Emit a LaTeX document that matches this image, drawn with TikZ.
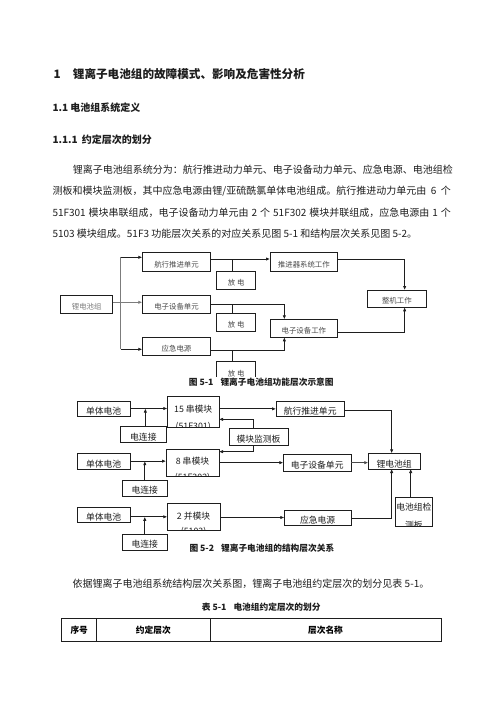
\documentclass[tikz,border=0pt]{standalone}
\usepackage{fontspec}
\setmainfont{Noto Sans CJK SC}
\usetikzlibrary{arrows.meta}
\XeTeXlinebreaklocale "zh"
\XeTeXlinebreakskip=0pt plus 1pt
\definecolor{bmsInk}{HTML}{1E1E1E}
\definecolor{bmsGrey}{HTML}{4A4A4A}
\definecolor{bmsSoft}{HTML}{7C7C7C}
\tikzset{
    bmsBoxBase/.style={
        rectangle,
        draw=bmsInk,
        anchor=north west,
        inner sep=0pt,
        outer sep=0pt,
        align=center
    },
    % Figure 5-1 (functions)
    funcBox/.style={bmsBoxBase, line width=0.75pt, text=bmsGrey,
        font=\fontsize{7.4}{9}\selectfont, text height=10.6pt, text depth=0pt},
    % Figure 5-2 (structure)
    structBox/.style={bmsBoxBase, line width=1pt, text=bmsInk,
        font=\fontsize{8.8}{10}\selectfont, text height=11.7pt, text depth=0pt},
    modText/.style={inner sep=0pt, text=bmsInk,
        font=\fontsize{8.8}{10}\selectfont, text height=6.7pt, text depth=0pt},
    % Page text
    bodyText/.style={anchor=west, inner sep=0pt, text=bmsInk,
        font=\fontsize{10}{12}\selectfont, text height=7.6pt, text depth=0pt},
    headText/.style={bodyText, font=\fontsize{10}{12}\selectfont\bfseries},
    capText/.style={anchor=west, inner sep=1pt, fill=white, text=bmsInk,
        font=\fontsize{8.7}{10}\selectfont\bfseries, text height=6.6pt, text depth=0pt},
    cellBox/.style={bmsBoxBase, line width=0.9pt, minimum height=22.7pt,
        font=\fontsize{8.7}{10}\selectfont\bfseries, text height=8pt, text depth=0pt},
    % Arrows
    bmsArrowBase/.style={-{Latex[length=4pt,width=3.4pt]}, line width=0.75pt, draw=bmsInk},
    bmsLine/.style={line width=0.75pt, draw=bmsInk},
    bmsFeed/.style={bmsArrowBase, line width=1.5pt, draw=bmsSoft}
}

\begin{document}
\begin{tikzpicture}[x=1pt, y=-1pt]
    \fill[white] (0,0) rectangle (496,702);
    \useasboundingbox (0,0) rectangle (496,702);

    % Headings and paragraph
    \node[headText, font=\fontsize{11.6}{13}\selectfont\bfseries, text height=8.8pt] (hOneNo) at (53.3,74.3) {1};
    \node[headText, font=\fontsize{11.6}{13}\selectfont\bfseries, text height=8.8pt] (hOne) at (72.7,74.3) {锂离子电池组的故障模式、影响及危害性分析};
    \node[headText] (hTwo) at (52.3,107.7) {1.1 电池组系统定义};
    \node[headText] (hThreeNo) at (52.3,139.3) {1.1.1};
    \node[headText] (hThree) at (81.7,139.3) {约定层次的划分};

    \node[bodyText] (paraA) at (72.7,169.3) {\hbox to 378pt{锂离子电池组系统分为：航行推进动力单元、电子设备动力单元、应急电源、电池组检}};
    \node[bodyText] (paraB) at (52.3,190.8) {\hbox to 398.4pt{测板和模块监测板，其中应急电源由锂/亚硫酰氯单体电池组成。航行推进动力单元由 6 个}};
    \node[bodyText] (paraC) at (52.3,212.3) {\hbox to 398.4pt{51F301 模块串联组成，电子设备动力单元由 2 个 51F302 模块并联组成，应急电源由 1 个}};
    \node[bodyText] (paraD) at (52.3,233.5) {5103 模块组成。51F3 功能层次关系的对应关系见图 5-1 和结构层次关系见图 5-2。};

    % Figure 5-1
    \node[funcBox, minimum width=52pt, minimum height=18pt, text=bmsSoft] (fLiGroup) at (60.7,295.3) {锂电池组};
    \node[funcBox, minimum width=68.4pt, minimum height=18.6pt] (fNavUnit) at (142.3,252.7) {航行推进单元};
    \node[funcBox, minimum width=68.4pt, minimum height=18.3pt] (fEquipUnit) at (142.3,295) {电子设备单元};
    \node[funcBox, minimum width=68.4pt, minimum height=18pt] (fEmerg) at (142.3,337.3) {应急电源};
    \node[funcBox, minimum width=39pt, minimum height=17.6pt] (fDisA) at (216.7,271.7) {放\ 电};
    \node[funcBox, minimum width=39pt, minimum height=17.7pt] (fDisB) at (216.7,313.3) {放\ 电};
    \node[funcBox, minimum width=39pt, minimum height=19pt] (fDisC) at (216.7,361.7) {放\ 电};
    \node[funcBox, minimum width=67.7pt, minimum height=18.6pt] (fThrust) at (270,252.7) {推进器系统工作};
    \node[funcBox, minimum width=67.7pt, minimum height=18pt] (fEquipWork) at (270,319.3) {电子设备工作};
    \node[funcBox, minimum width=58.3pt, minimum height=17.3pt] (fWhole) at (367.7,290) {整机工作};

    \coordinate (fTrunkTop) at (120.7,257.3);
    \coordinate (fTrunkBot) at (120.7,349.3);
    \coordinate (fTapA) at (232.5,259);
    \coordinate (fTapB) at (232.5,304.2);
    \coordinate (fTapC) at (232.5,350.3);

    \draw[bmsFeed] ([yshift=2pt]fLiGroup.east) -- ([yshift=2pt]fLiGroup.east -| fEquipUnit.west);
    \draw[bmsLine, draw=bmsSoft, line width=1pt] (fTrunkTop) -- (fTrunkBot);
    \draw[bmsArrowBase] (fTrunkTop) -- (fTrunkTop -| fNavUnit.west);
    \draw[bmsArrowBase] (fTrunkBot) -- (fTrunkBot -| fEmerg.west);
    \draw[bmsArrowBase] ([yshift=3pt]fNavUnit.east) -- ([yshift=3pt]fNavUnit.east -| fThrust.west);
    \draw[bmsArrowBase] ([yshift=3pt]fThrust.east) -| ([xshift=7.8pt]fWhole.north);
    \draw[bmsArrowBase] (fEquipUnit.east) -| ([xshift=-19.5pt]fEquipWork.north);
    \draw[bmsArrowBase] ([yshift=-4pt]fEmerg.east) -| ([xshift=-19.5pt]fEquipWork.south);
    \draw[bmsArrowBase] ([yshift=-4.4pt]fEquipWork.east) -| ([xshift=7.8pt]fWhole.south);
    \draw[bmsLine] (fDisA.north -| fTapA) -- (fTapA);
    \draw[bmsLine] (fDisB.north -| fTapB) -- (fTapB);
    \draw[bmsLine] (fDisC.north -| fTapC) -- (fTapC);

    \node[capText] (capOne) at (187.7,381.7) {图 5-1\hspace{7pt}锂离子电池组功能层次示意图};

    % Figure 5-2
    \node[structBox, minimum width=52.7pt, minimum height=15pt] (sCellA) at (77.3,401) {单体电池};
    \node[structBox, minimum width=52.7pt, minimum height=15.7pt] (sCellB) at (77.3,453.3) {单体电池};
    \node[structBox, minimum width=52.7pt, minimum height=15pt] (sCellC) at (77.3,507.3) {单体电池};
    \node[structBox, minimum width=51.7pt, minimum height=31.7pt] (sModA) at (167.3,396) {};
    \node[structBox, minimum width=53pt, minimum height=26.7pt] (sModB) at (166,449.3) {};
    \node[structBox, minimum width=52.7pt, minimum height=26.7pt] (sModC) at (167.3,503.3) {};
    \node[structBox, minimum width=45.3pt, minimum height=15.6pt] (sLinkA) at (120.7,426.7) {电连接};
    \node[structBox, minimum width=45pt, minimum height=16pt] (sLinkB) at (122.3,480) {电连接};
    \node[structBox, minimum width=45pt, minimum height=16pt] (sLinkC) at (122.3,534) {电连接};
    \node[structBox, minimum width=68.3pt, minimum height=15.7pt] (sNav) at (276,401) {航行推进单元};
    \node[structBox, minimum width=59pt, minimum height=17.4pt] (sMonitor) at (229,428.3) {模块监测板};
    \node[structBox, minimum width=67.7pt, minimum height=16.7pt] (sEquip) at (283.3,454.3) {电子设备单元};
    \node[structBox, minimum width=66.7pt, minimum height=15pt] (sEmerg) at (284.3,510) {应急电源};
    \node[structBox, minimum width=51.7pt, minimum height=15.7pt] (sLiGroup) at (368.3,453.3) {锂电池组};
    \node[structBox, minimum width=36.8pt, minimum height=29.4pt] (sCheck) at (395.5,497.3) {};

    \node[modText] (sModATop) at (193.2,409.3) {15 串模块};
    \node[modText] (sModBTop) at (192.5,461) {8 串模块};
    \node[modText] (sModCTop) at (193.6,516.5) {2 并模块};
    \node[modText] (sCheckTop) at (413.9,507.5) {电池组检};
    \begin{scope}
        \clip (sModA.south west) rectangle (sModA.north east);
        \node[modText] (sModACode) at (193.2,426.5) {(51F301)};
    \end{scope}
    \begin{scope}
        \clip (sModB.south west) rectangle (sModB.north east);
        \node[modText] (sModBCode) at (192.5,477.3) {(51F302)};
    \end{scope}
    \begin{scope}
        \clip (sModC.south west) rectangle (sModC.north east);
        \node[modText] (sModCCode) at (193.6,531.3) {(5103)};
    \end{scope}
    \begin{scope}
        \clip (sCheck.south west) rectangle (sCheck.north east);
        \node[modText] (sCheckEnd) at (413.9,525) {测板};
    \end{scope}

    \coordinate (sJoinC) at ([yshift=-2pt]sCellC.east);
    \draw[bmsArrowBase] (sCellA.east) -- (sCellA.east -| sModA.west);
    \draw[bmsArrowBase] (sCellB.east) -- (sCellB.east -| sModB.west);
    \draw[bmsArrowBase] (sJoinC) -- (sJoinC -| sModC.west);
    \draw[bmsArrowBase] ([xshift=2pt]sLinkA.north) -- ([xshift=2pt]sLinkA.north |- sCellA.east);
    \draw[bmsArrowBase] (sLinkB.north) -- (sLinkB.north |- sCellB.east);
    \draw[bmsArrowBase] (sLinkC.north) -- (sLinkC.north |- sJoinC);
    \draw[bmsArrowBase] (sNav.west -| sModA.east) -- (sNav.west);
    \draw[bmsArrowBase] ([xshift=-5.2pt]sMonitor.north) |- ([yshift=-7.5pt]sModA.east);
    \draw[bmsArrowBase] ([xshift=-5.2pt]sMonitor.south) |- ([yshift=11pt]sModB.east);
    \draw[bmsArrowBase] (sEquip.west -| sModB.east) -- (sEquip.west);
    \draw[bmsArrowBase] (sEmerg.west -| sModC.east) -- (sEmerg.west);
    \draw[bmsFeed, draw=bmsGrey] (sEquip.east) -- (sEquip.east -| sLiGroup.west);
    \draw[bmsArrowBase] ([yshift=-2pt]sNav.east) -| ([xshift=-2.5pt]sLiGroup.north);
    \draw[bmsArrowBase] ([yshift=-0.8pt]sEmerg.east) -| ([xshift=-2.5pt]sLiGroup.south);
    \draw[bmsArrowBase] ([xshift=-3.2pt]sCheck.north) -- ([xshift=-3.2pt]sCheck.north |- sLiGroup.south);

    \node[capText] (capTwo) at (188.3,548.3) {图 5-2\hspace{7pt}锂离子电池组的结构层次关系};

    % Table 5-1
    \node[bodyText] (paraE) at (72.3,584) {依据锂离子电池组系统结构层次关系图，锂离子电池组约定层次的划分见表 5-1。};
    \node[capText, fill=none] (capTab) at (200.7,607.3) {表 5-1\hspace{7pt}电池组约定层次的划分};
    \node[cellBox, minimum width=35pt] (tabNo) at (61.7,618.3) {序号};
    \node[cellBox, minimum width=113.3pt] (tabLevel) at (96.7,618.3) {约定层次};
    \node[cellBox, minimum width=231pt] (tabName) at (210,618.3) {层次名称};
\end{tikzpicture}
\end{document}
